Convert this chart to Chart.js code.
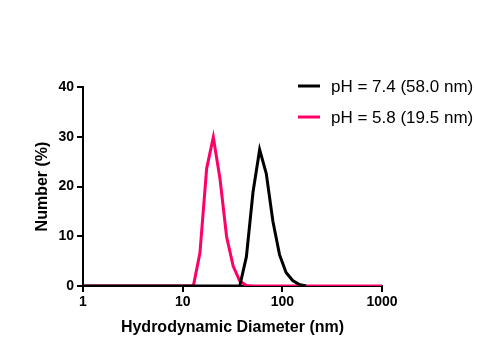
<!DOCTYPE html>
<html>
<head>
<meta charset="utf-8">
<script src="https://cdn.jsdelivr.net/npm/chart.js@4"></script>
<style>
  body { margin: 0; background: #fff; }
  canvas { display: block; }
</style>
</head>
<body>
<canvas id="chartCanvas" width="477" height="342"></canvas>
<script>
// bin sizes (nm)
const sizes = [1, 12.8, 14.9, 17.4, 20.3, 23.7, 27.6, 32.1, 37.4, 43.6, 50.8, 59.2, 69.0, 80.4, 93.7, 109, 127, 148, 173, 1000];
// pH 7.4 trace stops once it is back at zero (null = no point)
const ph74 = [0, 0, 0, 0, 0, 0, 0, 0, 0, 5.9, 18.9, 27.4, 22.6, 13.0, 6.3, 2.7, 1.1, 0.3, 0, null];
const ph58 = [0, 0, 6.6, 23.6, 29.9, 21.5, 9.9, 4.0, 1.0, 0.1, 0, 0, 0, 0, 0, 0, 0, 0, 0, 0];
const seriesLabels = ['pH = 7.4 (58.0 nm)', 'pH = 5.8 (19.5 nm)'];
const xTicks = [1, 10, 100, 1000];
const yTicks = [0, 10, 20, 30, 40];

const toPoints = vals => sizes.map((s, i) => ({ x: s, y: vals[i] })).filter(p => p.y !== null);

// simple legend drawn to the right, like the original
const legendPlugin = {
    id: 'sideLegend',
    afterDraw(chart) {
        const ctx = chart.ctx;
        ctx.save();
        chart.data.datasets.forEach((ds, i) => {
            const y = 86 + i * 31;
            ctx.strokeStyle = ds.borderColor;
            ctx.lineWidth = 3;
            ctx.beginPath();
            ctx.moveTo(298, y);
            ctx.lineTo(320, y);
            ctx.stroke();
            ctx.fillStyle = '#000';
            ctx.font = '17px "Liberation Sans", Arial, sans-serif';
            ctx.textBaseline = 'middle';
            ctx.fillText(ds.label, 331, y + 1);
        });
        ctx.restore();
    }
};

const ctx = document.getElementById('chartCanvas').getContext('2d');

new Chart(ctx, {
    type: 'line',
    data: {
        datasets: [
            {
                label: seriesLabels[0],
                data: toPoints(ph74),
                borderColor: '#000000',
                borderWidth: 3,
                pointRadius: 0,
                tension: 0,
                order: 0
            },
            {
                label: seriesLabels[1],
                data: toPoints(ph58),
                borderColor: '#ff0066',
                borderWidth: 3,
                pointRadius: 0,
                tension: 0,
                order: 1
            }
        ]
    },
    options: {
        responsive: false,
        animation: false,
        layout: { padding: { left: 0, right: 95, top: 87, bottom: 0 } },
        plugins: {
            legend: { display: false },
            tooltip: { enabled: false }
        },
        scales: {
            x: {
                type: 'logarithmic',
                min: 1,
                max: 1000,
                afterBuildTicks: scale => { scale.ticks = xTicks.map(v => ({ value: v })); },
                afterFit: scale => { scale.height = 56; },
                grid: { drawOnChartArea: false, tickLength: 6, color: '#000', lineWidth: 2 },
                border: { color: '#000', width: 2 },
                ticks: {
                    color: '#000',
                    font: { family: '"Liberation Sans", Arial', size: 14, weight: 'bold' },
                    maxRotation: 0,
                    padding: 2,
                    callback: v => String(v)
                },
                title: {
                    display: true,
                    text: 'Hydrodynamic Diameter (nm)',
                    color: '#000',
                    font: { family: '"Liberation Sans", Arial', size: 16, weight: 'bold' },
                    padding: { top: 0, bottom: 5 }
                }
            },
            y: {
                min: 0,
                max: 40,
                afterBuildTicks: scale => { scale.ticks = yTicks.map(v => ({ value: v })); },
                afterFit: scale => { scale.width = 83; },
                grid: { drawOnChartArea: false, tickLength: 6, color: '#000', lineWidth: 2 },
                border: { color: '#000', width: 2 },
                ticks: {
                    color: '#000',
                    font: { family: '"Liberation Sans", Arial', size: 14, weight: 'bold' }
                },
                title: {
                    display: true,
                    text: 'Number (%)',
                    color: '#000',
                    font: { family: '"Liberation Sans", Arial', size: 16, weight: 'bold' },
                    padding: { top: 33, bottom: 0 }
                }
            }
        }
    },
    plugins: [legendPlugin]
});
</script>
</body>
</html>
